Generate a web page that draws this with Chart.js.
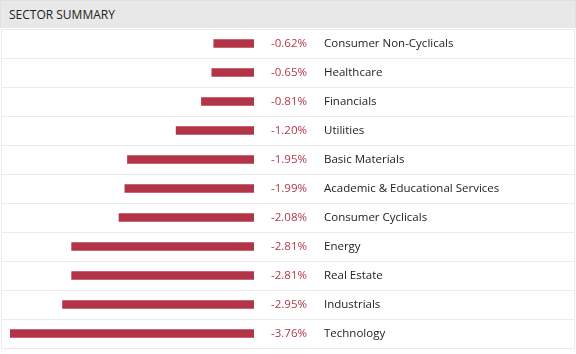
<!DOCTYPE html>
<html>
<head>
    <title>Sector Summary</title>
    <script src="https://cdn.jsdelivr.net/npm/chart.js"></script>
    <style>
        body { margin: 0; background: #fff; }
        #wrap { position: relative; width: 576px; height: 354px; }
        #header {
            position: absolute; left: 0; top: 0; width: 574px; height: 28px;
            background: #e8e8e8; border: 1px solid #e0e0e0; border-bottom: none;
            font: 12px "Open Sans", sans-serif; color: #222;
            line-height: 28px; padding-left: 8px; box-sizing: border-box; width: 576px;
        }
        canvas { position: absolute; left: 0; top: 0; }
    </style>
</head>
<body>
<div id="wrap">
    <canvas id="myChart" width="576" height="354"></canvas>
    <div id="header">SECTOR SUMMARY</div>
</div>

<script>
    const sectors = ['Consumer Non-Cyclicals', 'Healthcare', 'Financials', 'Utilities', 'Basic Materials',
        'Academic & Educational Services', 'Consumer Cyclicals', 'Energy', 'Real Estate', 'Industrials', 'Technology'];
    const changes = [-0.62, -0.65, -0.81, -1.20, -1.95, -1.99, -2.08, -2.81, -2.81, -2.95, -3.76];

    // подписи справа от столбцов и линии между строками
    const rowLabels = {
        id: 'rowLabels',
        afterDatasetsDraw(chart) {
            const ctx = chart.ctx;
            const yScale = chart.scales.y;
            const bars = chart.getDatasetMeta(0).data;
            ctx.save();
            ctx.strokeStyle = '#ebebeb';
            ctx.lineWidth = 1;
            const step = yScale.getPixelForValue(1) - yScale.getPixelForValue(0);
            for (let i = 0; i <= sectors.length; i++) {
                const y = Math.round(yScale.getPixelForValue(0) - step / 2 + i * step) + 0.5;
                ctx.beginPath();
                ctx.moveTo(1, y);
                ctx.lineTo(575, y);
                ctx.stroke();
            }
            ctx.beginPath();
            ctx.moveTo(1.5, chart.chartArea.top);
            ctx.lineTo(1.5, chart.chartArea.bottom);
            ctx.moveTo(574.5, chart.chartArea.top);
            ctx.lineTo(574.5, chart.chartArea.bottom);
            ctx.stroke();

            ctx.font = '11.5px "Open Sans", sans-serif';
            ctx.textBaseline = 'middle';
            bars.forEach((bar, i) => {
                ctx.fillStyle = '#b03a4b';
                ctx.textAlign = 'right';
                ctx.fillText(changes[i].toFixed(2) + '%', 307, bar.y);
                ctx.fillStyle = '#222';
                ctx.textAlign = 'left';
                ctx.fillText(sectors[i], 324, bar.y);
            });
            ctx.restore();
        }
    };

    new Chart(document.getElementById('myChart'), {
        type: 'bar',
        data: {
            labels: sectors,
            datasets: [{
                data: changes,
                backgroundColor: '#b23446',
                barThickness: 8,
                borderWidth: 0
            }]
        },
        options: {
            indexAxis: 'y',
            responsive: false,
            animation: false,
            layout: { padding: { top: 29, bottom: 6, left: 10, right: 322 } },
            plugins: { legend: { display: false }, tooltip: { enabled: false } },
            scales: {
                x: { display: false, min: -3.76, max: 0 },
                y: { display: false }
            }
        },
        plugins: [rowLabels]
    });
</script>
</body>
</html>
